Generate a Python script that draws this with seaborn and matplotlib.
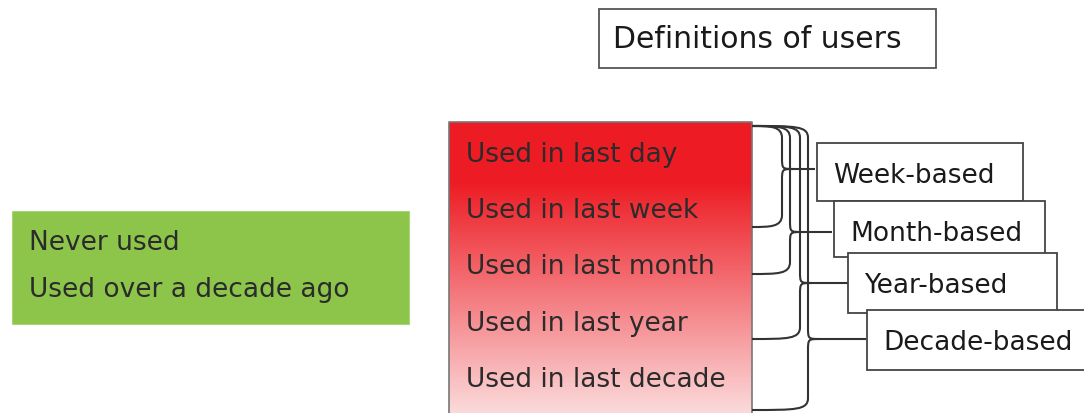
import numpy as np
import matplotlib
matplotlib.use("Agg")
import matplotlib.pyplot as plt
import seaborn as sns
from matplotlib.patches import Rectangle, PathPatch
from matplotlib.path import Path

# Labels of the diagram
title = "Definitions of users"
non_user_labels = ["Never used", "Used over a decade ago"]
usage_levels = ["Used in last day", "Used in last week", "Used in last month",
                "Used in last year", "Used in last decade"]
user_groups = ["Week-based", "Month-based", "Year-based", "Decade-based"]

sns.set_theme(style="white")
plt.rcParams["font.family"] = ["DejaVu Sans"]

fig = plt.figure(figsize=(10.84, 4.13), dpi=100)
ax = fig.add_axes([0, 0, 1, 1])
ax.set_xlim(0, 1084)
ax.set_ylim(413, 0)
ax.axis("off")

fs = 19
txt_col = "#2b2b2b"

# title box
ax.add_patch(Rectangle((599, 9), 337, 59, facecolor="white", edgecolor="#555555", lw=1.3))
ax.text(613, 48, title, fontsize=21.5, color="#1a1a1a", va="baseline", ha="left")

# green box for non-users
ax.add_patch(Rectangle((12, 211), 397, 113, facecolor="#8dc54b", edgecolor="#a9d47a", lw=0.8))
for i, lab in enumerate(non_user_labels):
    ax.text(29, 250 + 47 * i, lab, fontsize=fs, color=txt_col, va="baseline", ha="left")

# red gradient box for users
red_cmap = sns.blend_palette(["#ed1c24", "#fbdadb"], as_cmap=True)
yy = np.linspace(122, 413, 300)
t = np.clip((yy - 182) / (413 - 182), 0, 1)
grad = np.tile(t[:, None], (1, 2))
ax.imshow(grad, cmap=red_cmap, vmin=0, vmax=1, extent=(449, 752, 413, 122),
          aspect="auto", origin="upper", zorder=1)
ax.plot([449, 449, 752, 752], [413, 122, 122, 413], color="#777777", lw=1.2, zorder=2)
for i, lab in enumerate(usage_levels):
    ax.text(466, 162 + 56.2 * i, lab, fontsize=fs, color=txt_col, va="baseline",
            ha="left", zorder=3)

# braces linking usage levels to user groups
brace_top = 126
brace_bottom = [227, 274, 339, 410]
brace_x = [782, 790, 800, 808]
tip_y = [169, 232, 283, 339]
tip_x = [815, 832, 848, 866]
r = 12


def brace(x0, y0, y1, xv, yt, xt):
    verts = [(x0, y0),
             (xv - r, y0), (xv, y0), (xv, y0 + r),
             (xv, yt - r),
             (xv, yt), (xv, yt), (xv + r, yt),
             (xt, yt),
             (xv + r, yt),
             (xv, yt), (xv, yt), (xv, yt + r),
             (xv, y1 - r),
             (xv, y1), (xv - r, y1), (x0, y1)]
    codes = [Path.MOVETO,
             Path.CURVE4, Path.CURVE4, Path.CURVE4,
             Path.LINETO,
             Path.CURVE4, Path.CURVE4, Path.CURVE4,
             Path.LINETO,
             Path.MOVETO,
             Path.CURVE4, Path.CURVE4, Path.CURVE4,
             Path.LINETO,
             Path.CURVE4, Path.CURVE4, Path.CURVE4]
    return PathPatch(Path(verts, codes), facecolor="none", edgecolor="#333333", lw=1.5, zorder=4)


for k in range(len(user_groups)):
    ax.add_patch(brace(752, brace_top, brace_bottom[k], brace_x[k], tip_y[k], tip_x[k]))

# group boxes
box_x = [817, 834, 848, 867]
box_y = [143, 201, 253, 310]
box_w = [206, 211, 209, 230]
box_h = [58, 56, 60, 60]
for k, lab in enumerate(user_groups):
    ax.add_patch(Rectangle((box_x[k], box_y[k]), box_w[k], box_h[k], facecolor="white",
                           edgecolor="#444444", lw=1.3, zorder=5 + k))
    ax.text(box_x[k] + 16, box_y[k] + 40, lab, fontsize=fs, color="#1a1a1a",
            va="baseline", ha="left", zorder=5 + k)

fig.savefig("out.png", dpi=100)
